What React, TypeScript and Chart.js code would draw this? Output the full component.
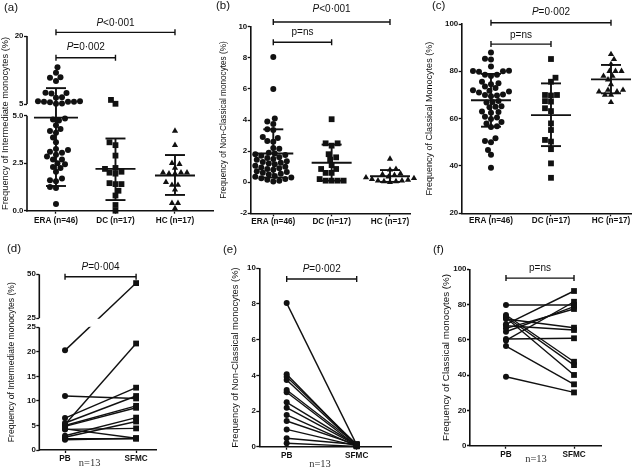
import React, { useEffect, useRef } from "react";
import { Chart, registerables } from "chart.js";

Chart.register(...registerables);

const FONT = "'Liberation Sans', Arial, Helvetica, sans-serif";
const SERIF = "'Liberation Serif', 'Times New Roman', serif";
const INK = "#111";

// ---------------- categories ----------------
const groupLabels = ["ERA (n=46)", "DC (n=17)", "HC (n=17)"];
const pairedLabels = ["PB", "SFMC"];

// ---------------- (a) Intermediate monocytes ----------------
const intermediateERA = [13.1, 11.9, 10.9, 10.8, 10.1, 7.5, 7.4, 7.3, 6.5, 6.4, 5.6, 5.5, 5.5, 5.5, 5.4, 5.6, 5.1, 5.05,
  4.85, 4.8, 4.75, 4.5, 4.3, 4.2, 4.1, 3.85, 3.6, 3.25, 3.2, 3.1, 3.05, 2.95, 2.85, 2.7, 2.7, 2.5, 2.45, 2.3, 2.25, 2.05,
  1.7, 1.6, 1.55, 1.25, 1.2, 0.35];
const intermediateDC = [5.9, 5.05, 3.6, 3.45, 2.9, 2.25, 2.2, 2.05, 2.0, 1.95, 1.45, 1.4, 1.4, 1.05, 0.8, 0.3, 0.0];
const intermediateHC = [4.2, 3.45, 2.5, 2.45, 2.25, 2.0, 1.95, 2.0, 1.95, 2.0, 1.5, 1.35, 1.35, 1.1, 0.4, 0.4, 0.12];
const intermediateMean = [4.9, 2.2, 1.85];
const intermediateSdLow = [1.3, 0.56, 0.83];
const intermediateSdHigh = [8.5, 3.8, 2.93];
const intermediateLowerTicks = [0, 2.5, 5];
const intermediateLowerTickLabels = ["0.0", "2.5", "5.0"];
const intermediateUpperTicks = [5, 20];
const intermediateUpperTickLabels = ["5", "20"];

// ---------------- (b) Non-classical monocytes ----------------
const nonClassicalERA = [8.05, 6.0, 4.1, 3.9, 3.75, 3.4, 3.35, 2.9, 2.85, 2.65, 2.6, 2.2, 2.15, 1.9, 1.85, 1.8, 1.75, 1.7,
  1.6, 1.55, 1.5, 1.45, 1.35, 1.3, 1.25, 1.2, 1.15, 1.05, 1.0, 0.95, 0.9, 0.85, 0.8, 0.7, 0.65, 0.6, 0.55, 0.5, 0.4, 0.35,
  0.3, 0.25, 0.2, 0.15, 0.1, 0.05];
const nonClassicalDC = [4.05, 2.5, 2.5, 2.35, 1.8, 1.6, 1.45, 1.1, 0.85, 0.85, 0.6, 0.6, 0.1, 0.1, 0.1, 0.1, 0.2];
const nonClassicalHC = [1.5, 0.85, 0.8, 0.55, 0.5, 0.45, 0.35, 0.3, 0.3, 0.25, 0.2, 0.15, 0.1, 0.05, 0.05, 0.0, 0.1];
const nonClassicalMean = [1.85, 1.25, 0.38];
const nonClassicalSdLow = [0.3, 0.1, 0.02];
const nonClassicalSdHigh = [3.4, 2.42, 0.78];
const nonClassicalTicks = [-2, 0, 2, 4, 6, 8, 10];

// ---------------- (c) Classical monocytes ----------------
const classicalERA = [88.0, 85.3, 85.0, 82.0, 80.2, 80.0, 79.8, 80.1, 78.5, 78.6, 78.0, 75.6, 75.0, 74.5, 73.6, 73.0, 72.0,
  71.8, 71.5, 71.0, 70.2, 70.0, 69.8, 69.5, 67.5, 67.0, 66.8, 65.2, 65.0, 64.8, 63.0, 62.8, 62.5, 60.8, 60.5, 59.8, 58.6,
  58.0, 56.8, 56.5, 51.7, 50.6, 50.0, 46.8, 44.7, 39.3];
const classicalDC = [85.2, 77.3, 75.6, 70.0, 70.0, 69.8, 67.2, 67.4, 63.2, 64.4, 58.0, 55.2, 51.0, 50.3, 47.1, 41.1, 35.0];
const classicalHC = [87.2, 85.1, 83.0, 80.1, 80.1, 80.1, 78.0, 78.0, 76.5, 74.5, 72.1, 71.4, 71.4, 72.1, 70.0, 70.0, 66.9];
const classicalMean = [67.8, 61.5, 76.6];
const classicalSdLow = [56.6, 48.4, 70.7];
const classicalSdHigh = [78.9, 74.9, 82.7];
const classicalTicks = [20, 40, 60, 80, 100];

// ---------------- (d)-(f) paired PB vs SFMC ----------------
const pairedIntermediatePB = [20.3, 11.0, 6.5, 5.5, 5.2, 5.0, 4.8, 4.3, 4.2, 2.9, 2.6, 2.3, 2.1];
const pairedIntermediateSFMC = [45.0, 10.5, 12.7, 11.0, 21.7, 9.0, 8.6, 2.4, 4.4, 6.6, 5.8, 2.3, 2.4];
const pairedIntermediateLowerTicks = [0, 5, 10, 15, 20, 25];
const pairedIntermediateUpperTicks = [25, 50];

const pairedNonClassicalPB = [8.05, 4.06, 3.92, 3.74, 3.18, 3.05, 2.49, 2.19, 1.78, 1.44, 0.97, 0.47, 0.19];
const pairedNonClassicalSFMC = [0.1, 0.05, 0.12, 0.08, 0.15, 0.05, 0.1, 0.07, 0.03, 0.1, 0.05, 0.12, 0.02];
const pairedNonClassicalTicks = [0, 2, 4, 6, 8, 10];

const pairedClassicalPB = [79.8, 74.1, 73.1, 72.5, 71.8, 68.8, 68.0, 66.5, 64.6, 60.5, 59.7, 56.5, 39.1];
const pairedClassicalSFMC = [79.8, 47.6, 45.7, 40.1, 66.9, 87.7, 65.6, 77.5, 78.8, 60.9, 81.6, 34.8, 30.2];
const pairedClassicalTicks = [0, 20, 40, 60, 80, 100];

// ---------------- helpers ----------------
type Tick = { v: number; label: string; upper?: boolean };
const plainTicks = (vals: number[]): Tick[] => vals.map((v) => ({ v, label: String(v) }));

function makeMapping(p: any) {
  const a = p.area;
  if (!p.broken) {
    return { min: p.yRange[0], max: p.yRange[1], toAxis: (v: number) => v, toUpper: (v: number) => v, upStart: 0 };
  }
  const b = p.broken;
  const unitPx = (a.bottom - b.lowerTopPx) / b.lowerMax;
  const upStart = b.lowerMax + (b.lowerTopPx - b.upperBottomPx) / unitPx;
  const upEnd = upStart + (b.upperBottomPx - a.top) / unitPx;
  const toUpper = (v: number) => upStart + ((v - b.upperMin) / (b.upperMax - b.upperMin)) * (upEnd - upStart);
  return { min: 0, max: upEnd, toAxis: (v: number) => (v <= b.lowerMax ? v : toUpper(v)), toUpper, upStart };
}

function swarmOffsets(values: number[], yPx: (v: number) => number, minDist: number, step: number) {
  const order = values.map((_, i) => i).sort((a, b) => values[a] - values[b]);
  const placed: { x: number; y: number }[] = [];
  const out = new Array(values.length).fill(0);
  for (const i of order) {
    const y = yPx(values[i]);
    let chosen = 0;
    for (let k = 0; k < 300; k++) {
      const c = k === 0 ? [0] : placed.length % 2 ? [k * step, -k * step] : [-k * step, k * step];
      const hit = c.find((x) => placed.every((q) => (q.x - x) ** 2 + (q.y - y) ** 2 >= minDist * minDist));
      if (hit !== undefined) { chosen = hit; break; }
    }
    placed.push({ x: chosen, y });
    out[i] = chosen;
  }
  return out;
}

function drawLabel(ctx: CanvasRenderingContext2D, text: string, italicFirst: boolean, cx: number, cy: number, size = 10) {
  ctx.textBaseline = "middle";
  ctx.textAlign = "left";
  ctx.fillStyle = INK;
  const first = text[0];
  const rest = text.slice(1);
  const f1 = `${italicFirst ? "italic " : ""}${size}px ${FONT}`;
  const f2 = `${size}px ${FONT}`;
  ctx.font = f1;
  const w1 = ctx.measureText(first).width;
  ctx.font = f2;
  const w2 = ctx.measureText(rest).width;
  const x = cx - (w1 + w2) / 2;
  ctx.font = f1;
  ctx.fillText(first, x, cy);
  ctx.font = f2;
  ctx.fillText(rest, x + w1, cy);
}

function seg(ctx: CanvasRenderingContext2D, x1: number, y1: number, x2: number, y2: number) {
  ctx.beginPath();
  ctx.moveTo(x1, y1);
  ctx.lineTo(x2, y2);
  ctx.stroke();
}

const RADIUS: any = { circle: 3.0, rect: 4.1, triangle: 3.6 };

// ---------------- panels ----------------
const panels: any[] = [
  {
    key: "a", letter: "(a)", letterPos: [4, 7.5],
    area: { left: 27, top: 36, right: 213, bottom: 210.7 },
    titleX: 5.6, titleSize: 9.3, title: "Frequency of Intermediate monocytes (%)",
    xRange: [-0.487, 2.639], xLabels: groupLabels, xLabelPad: 2.2,
    broken: { lowerMax: 5, upperMin: 5, upperMax: 20, lowerTopPx: 115.7, upperBottomPx: 104, blank: false },
    yTicks: [
      ...intermediateLowerTicks.map((v, i) => ({ v, label: intermediateLowerTickLabels[i] })),
      ...intermediateUpperTicks.map((v, i) => ({ v, label: intermediateUpperTickLabels[i], upper: true })),
    ],
    groups: [
      { values: intermediateERA, style: "circle" },
      { values: intermediateDC, style: "rect" },
      { values: intermediateHC, style: "triangle" },
    ],
    stats: { mean: intermediateMean, lo: intermediateSdLow, hi: intermediateSdHigh },
    brackets: [
      { from: 0, to: 2, level: 20.8, text: "P<0·001", italicFirst: true, gap: 9 },
      { from: 0, to: 1, level: 15.2, text: "P=0·002", italicFirst: true, gap: 11 },
    ],
  },
  {
    key: "b", letter: "(b)", letterPos: [216, 6],
    area: { left: 250.7, top: 26.7, right: 410, bottom: 213.3 },
    titleX: 223.3, titleSize: 8.2, title: "Frequency of Non-Classical monocytes (%)",
    xRange: [-0.387, 2.343], xLabels: groupLabels, xLabelPad: 0.8,
    yRange: [-2, 10],
    yTicks: plainTicks(nonClassicalTicks),
    groups: [
      { values: nonClassicalERA, style: "circle" },
      { values: nonClassicalDC, style: "rect" },
      { values: nonClassicalHC, style: "triangle" },
    ],
    stats: { mean: nonClassicalMean, lo: nonClassicalSdLow, hi: nonClassicalSdHigh },
    brackets: [
      { from: 0, to: 2, level: 10.3, text: "P<0·001", italicFirst: true, gap: 13 },
      { from: 0, to: 1, level: 9.0, text: "p=ns", italicFirst: false, gap: 10 },
    ],
  },
  {
    key: "c", letter: "(c)", letterPos: [432, 6],
    area: { left: 461.7, top: 24, right: 631.7, bottom: 213.3 },
    titleX: 430, titleSize: 9, title: "Frequency of Classical Monocytes (%)",
    xRange: [-0.488, 2.345], xLabels: groupLabels, xLabelPad: 0,
    yRange: [20, 100],
    yTicks: plainTicks(classicalTicks),
    groups: [
      { values: classicalERA, style: "circle" },
      { values: classicalDC, style: "rect" },
      { values: classicalHC, style: "triangle" },
    ],
    stats: { mean: classicalMean, lo: classicalSdLow, hi: classicalSdHigh },
    brackets: [
      { from: 0, to: 2, level: 100.5, text: "P=0·002", italicFirst: true, gap: 11 },
      { from: 0, to: 1, level: 91.5, text: "p=ns", italicFirst: false, gap: 8.5 },
    ],
  },
  {
    key: "d", letter: "(d)", letterPos: [7, 249],
    area: { left: 39.3, top: 274.3, right: 156.7, bottom: 450 },
    titleX: 11.7, titleSize: 8.6, title: "Frequency of Intermediate monocytes (%)",
    xRange: [-0.362, 1.29], xLabels: pairedLabels, xLabelPad: 0.5,
    broken: { lowerMax: 25, upperMin: 25, upperMax: 50, lowerTopPx: 327.3, upperBottomPx: 318.3, blank: true },
    yTicks: [
      ...plainTicks(pairedIntermediateLowerTicks),
      ...pairedIntermediateUpperTicks.map((v) => ({ v, label: String(v), upper: true })),
    ],
    pairs: { a: pairedIntermediatePB, b: pairedIntermediateSFMC },
    brackets: [{ from: 0, to: 1, level: 48.6, text: "P=0·004", italicFirst: true, gap: 10 }],
    nLabel: { text: "n=13", x: 89.7, y: 463.5 },
  },
  {
    key: "e", letter: "(e)", letterPos: [223, 250],
    area: { left: 259.3, top: 268.3, right: 391.7, bottom: 446.7 },
    titleX: 235, titleSize: 9.4, title: "Frequency of Non-Classical monocytes (%)",
    xRange: [-0.391, 1.5], xLabels: pairedLabels, xLabelPad: 1.2,
    yRange: [0, 10],
    yTicks: plainTicks(pairedNonClassicalTicks),
    pairs: { a: pairedNonClassicalPB, b: pairedNonClassicalSFMC },
    brackets: [{ from: 0, to: 1, level: 9.4, text: "P=0·002", italicFirst: true, gap: 10 }],
    nLabel: { text: "n=13", x: 320, y: 464.5 },
  },
  {
    key: "f", letter: "(f)", letterPos: [433, 250],
    area: { left: 470, top: 269.3, right: 601.7, bottom: 445.7 },
    titleX: 446.7, titleSize: 9.8, title: "Frequency of Classical monocytes (%)",
    xRange: [-0.529, 1.407], xLabels: pairedLabels, xLabelPad: 1.5,
    yRange: [0, 100],
    yTicks: plainTicks(pairedClassicalTicks),
    pairs: { a: pairedClassicalPB, b: pairedClassicalSFMC },
    brackets: [{ from: 0, to: 1, level: 95, text: "p=ns", italicFirst: false, gap: 10 }],
    nLabel: { text: "n=13", x: 536, y: 459 },
  },
];

function PanelChart({ p }: { p: any }) {
  const ref = useRef<HTMLCanvasElement>(null);
  useEffect(() => {
    const m = makeMapping(p);
    const a = p.area;
    const yPx = (v: number) => a.bottom - ((m.toAxis(v) - m.min) / (m.max - m.min)) * (a.bottom - a.top);
    const xUnitPerPx = (p.xRange[1] - p.xRange[0]) / (a.right - a.left);
    const datasets: any[] = [];

    if (p.groups) {
      p.groups.forEach((g: any, gi: number) => {
        const offs = swarmOffsets(g.values, yPx, 5.6, 1.5);
        datasets.push({
          data: g.values.map((v: number, i: number) => ({ x: gi + offs[i] * xUnitPerPx, y: m.toAxis(v) })),
          pointStyle: g.style,
          pointRadius: RADIUS[g.style],
          backgroundColor: INK,
          borderWidth: 0,
          showLine: false,
          clip: false,
        });
      });
    }
    if (p.pairs) {
      p.pairs.a.forEach((va: number, i: number) => {
        datasets.push({
          data: [{ x: 0, y: m.toAxis(va) }, { x: 1, y: m.toAxis(p.pairs.b[i]) }],
          showLine: true,
          borderColor: INK,
          borderWidth: 1.4,
          pointStyle: ["circle", "rect"],
          pointRadius: [RADIUS.circle, RADIUS.rect],
          pointBackgroundColor: INK,
          pointBorderWidth: 0,
          clip: false,
        });
      });
    }

    const padLeft = Math.max(0, p.titleX - p.titleSize * 0.6);

    const decor = {
      id: "decor" + p.key,
      afterDatasetsDraw(chart: any) {
        const ctx = chart.ctx as CanvasRenderingContext2D;
        const xs = chart.scales.x;
        const ys = chart.scales.y;
        const ca = chart.chartArea;
        ctx.save();
        if (p.broken && p.broken.blank) {
          const yLow = ys.getPixelForValue(p.broken.lowerMax);
          const yUp = ys.getPixelForValue(m.upStart);
          ctx.fillStyle = "#fff";
          ctx.fillRect(ca.left + 1, yUp + 0.5, ca.right - ca.left, yLow - yUp - 1);
        }
        if (p.stats) {
          ctx.strokeStyle = INK;
          ctx.lineWidth = 1.9;
          p.stats.mean.forEach((mv: number, i: number) => {
            const cx = xs.getPixelForValue(i);
            const ym = ys.getPixelForValue(m.toAxis(mv));
            const yl = ys.getPixelForValue(m.toAxis(p.stats.lo[i]));
            const yh = ys.getPixelForValue(m.toAxis(p.stats.hi[i]));
            const half = i === 0 && p.key === "a" ? 22 : 20;
            seg(ctx, cx - half, ym, cx + half, ym);
            seg(ctx, cx - 10, yh, cx + 10, yh);
            seg(ctx, cx - 10, yl, cx + 10, yl);
            seg(ctx, cx, yh, cx, yl);
          });
        }
        ctx.restore();
      },
      afterDraw(chart: any) {
        const ctx = chart.ctx as CanvasRenderingContext2D;
        const xs = chart.scales.x;
        const ys = chart.scales.y;
        const ca = chart.chartArea;
        ctx.save();
        ctx.strokeStyle = INK;
        if (p.broken) {
          ctx.lineWidth = 1.6;
          const x = ca.left;
          seg(ctx, x, ca.bottom + 0.75, x, ys.getPixelForValue(p.broken.lowerMax));
          seg(ctx, x, ys.getPixelForValue(m.upStart), x, ca.top);
        }
        p.brackets.forEach((b: any) => {
          const x1 = xs.getPixelForValue(b.from);
          const x2 = xs.getPixelForValue(b.to);
          const y = ys.getPixelForValue(m.toAxis(b.level));
          ctx.lineWidth = 1.4;
          seg(ctx, x1, y, x2, y);
          seg(ctx, x1, y - 3, x1, y + 3);
          seg(ctx, x2, y - 3, x2, y + 3);
          drawLabel(ctx, b.text, b.italicFirst, (x1 + x2) / 2, y - b.gap, 10);
        });
        ctx.fillStyle = INK;
        ctx.textAlign = "left";
        ctx.textBaseline = "middle";
        ctx.font = `11.5px ${FONT}`;
        ctx.fillText(p.letter, p.letterPos[0], p.letterPos[1]);
        if (p.nLabel) {
          ctx.fillStyle = "#333";
          ctx.textAlign = "center";
          ctx.font = `10.5px ${SERIF}`;
          ctx.fillText(p.nLabel.text, p.nLabel.x, p.nLabel.y);
        }
        ctx.restore();
      },
    };

    const tickFont = { size: 7.9, weight: "bold", family: FONT };
    const chart = new Chart(ref.current as HTMLCanvasElement, {
      type: "scatter",
      data: { datasets },
      options: {
        animation: false,
        responsive: false,
        devicePixelRatio: 1,
        events: [],
        layout: { autoPadding: false, padding: { left: padLeft, top: a.top, right: 635 - a.right, bottom: 0 } },
        plugins: { legend: { display: false }, tooltip: { enabled: false } },
        scales: {
          x: {
            type: "linear",
            min: p.xRange[0],
            max: p.xRange[1],
            afterBuildTicks: (s: any) => { s.ticks = p.xLabels.map((_: string, i: number) => ({ value: i })); },
            afterFit: (s: any) => { s.height = 468 - a.bottom; },
            ticks: {
              callback: (_v: any, i: number) => p.xLabels[i],
              font: { size: 8.2, weight: "bold", family: FONT },
              color: INK,
              padding: p.xLabelPad,
              autoSkip: false,
              maxRotation: 0,
              minRotation: 0,
            },
            grid: { drawOnChartArea: false, drawTicks: true, tickLength: 3, tickColor: INK, tickWidth: 1.3 },
            border: { display: true, color: INK, width: 1.6 },
          },
          y: {
            type: "linear",
            min: m.min,
            max: m.max,
            afterBuildTicks: (s: any) => {
              s.ticks = p.yTicks.map((t: Tick) => ({ value: t.upper ? m.toUpper(t.v) : t.v }));
            },
            afterFit: (s: any) => { s.width = a.left - padLeft; },
            ticks: {
              callback: (_v: any, i: number) => p.yTicks[i].label,
              font: tickFont,
              color: INK,
              padding: 0.5,
              autoSkip: false,
            },
            grid: { drawOnChartArea: false, drawTicks: true, tickLength: 3, tickColor: INK, tickWidth: 1.3 },
            border: { display: !p.broken, color: INK, width: 1.6 },
            title: { display: true, text: p.title, font: { size: p.titleSize, family: FONT }, color: INK, padding: 0 },
          },
        },
      } as any,
      plugins: [decor],
    } as any);
    return () => chart.destroy();
  }, []);
  return (
    <canvas
      ref={ref}
      width={635}
      height={468}
      style={{ position: "absolute", left: 0, top: 0, width: 635, height: 468 }}
    />
  );
}

export default function App() {
  return (
    <div style={{ position: "fixed", left: 0, top: 0, width: 635, height: 468, background: "#fff", overflow: "hidden" }}>
      {panels.map((p) => (
        <PanelChart key={p.key} p={p} />
      ))}
    </div>
  );
}
